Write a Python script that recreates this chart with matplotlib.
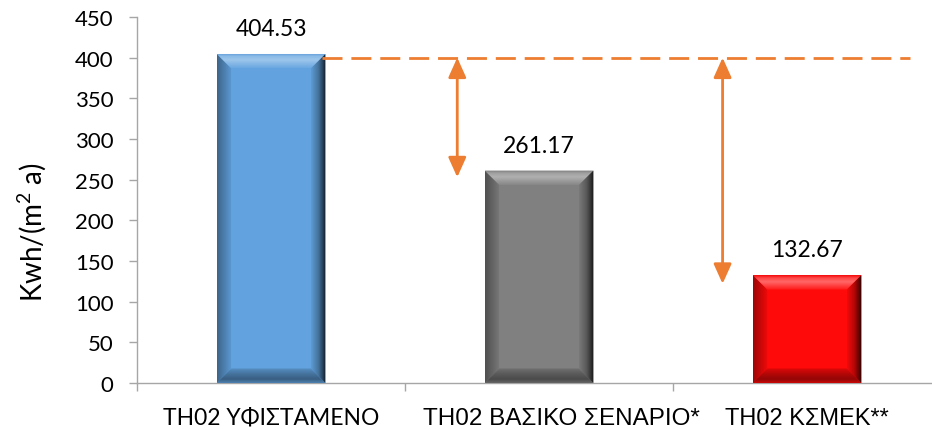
import numpy as np
import matplotlib
matplotlib.use("Agg")
import matplotlib.pyplot as plt
from matplotlib.patches import Polygon
from matplotlib.colors import to_rgb
import matplotlib.transforms as mtransforms

plt.rcParams["mathtext.fontset"] = "custom"
plt.rcParams["mathtext.rm"] = "Lato"
plt.rcParams["mathtext.it"] = "Lato:italic"
plt.rcParams["mathtext.bf"] = "Lato:bold"
plt.rcParams["mathtext.default"] = "regular"

# ---- data ----
categories = ["TH02 ΥΦΙΣΤΑΜΕΝΟ", "TH02 ΒΑΣΙΚΟ ΣΕΝΑΡΙΟ*", "TH02 ΚΣΜΕΚ**"]
values = [404.53, 261.17, 132.67]
value_labels = ["404.53", "261.17", "132.67"]
bar_colors = ["#62A3DF", "#808080", "#FF0A0A"]
ref_level = 400
ref_start, ref_end = 0.19, 2.384
arrow_x = [0.695, 1.685]
arrow_bottom = [253, 122]
yticks = [0, 50, 100, 150, 200, 250, 300, 350, 400, 450]
ylabel = r"Kwh/(m$^{2}$ a)"

orange = "#ED7D31"
axis_gray = "#A6A6A6"

W, H, DPI = 932, 431, 100
fig = plt.figure(figsize=(W / DPI, H / DPI), dpi=DPI)
ax = fig.add_axes([137 / W, 47 / H, (941 - 137) / W, (384 - 18) / H])

x = np.arange(len(categories))
bars = ax.bar(x, values, width=0.406, color=bar_colors, zorder=2, linewidth=0)

XL = (-0.5, 2.5)
YL = (0, 450)
ax.set_xlim(*XL)
ax.set_ylim(*YL)

# bevel sizes (pixels -> data)
ax_w_px = (941 - 137)
ax_h_px = (384 - 18)
bev_px = 14.5
bx = bev_px * (XL[1] - XL[0]) / ax_w_px
by = bev_px * (YL[1] - YL[0]) / ax_h_px


def shade(c, f):
    c = np.array(to_rgb(c))
    if f >= 0:
        return c + (1 - c) * f
    return c * (1 + f)


def grad_poly(verts, extent, stops, base, vertical):
    pos = np.array([s[0] for s in stops])
    cols = np.array([shade(base, s[1]) for s in stops])
    n = 64
    t = np.linspace(0, 1, n)
    arr = np.stack([np.interp(t, pos, cols[:, k]) for k in range(3)], axis=-1)
    if vertical:
        img = arr[:, None, :]
    else:
        img = arr[None, :, :]
    im = ax.imshow(img, extent=extent, origin="lower", aspect="auto",
                   interpolation="bilinear", zorder=3)
    poly = Polygon(verts, closed=True, facecolor="none", edgecolor="none",
                   transform=ax.transData)
    ax.add_patch(poly)
    im.set_clip_path(poly)


for rect, col in zip(bars, bar_colors):
    x0 = rect.get_x()
    x1 = x0 + rect.get_width()
    y0 = rect.get_y()
    y1 = y0 + rect.get_height()
    # top bevel (t=0 inner, t=1 outer top)
    grad_poly([(x0, y1), (x1, y1), (x1 - bx, y1 - by), (x0 + bx, y1 - by)],
              (x0, x1, y1 - by, y1),
              [(0, 0.05), (0.55, 0.38), (0.8, 0.25), (1, -0.05)], col, True)
    # bottom bevel (t=0 outer bottom, t=1 inner)
    grad_poly([(x0, y0), (x1, y0), (x1 - bx, y0 + by), (x0 + bx, y0 + by)],
              (x0, x1, y0, y0 + by),
              [(0, -0.2), (0.25, -0.42), (0.6, -0.3), (1, -0.12)], col, True)
    # left bevel (t=0 outer left, t=1 inner)
    grad_poly([(x0, y0), (x0, y1), (x0 + bx, y1 - by), (x0 + bx, y0 + by)],
              (x0, x0 + bx, y0, y1),
              [(0, -0.38), (0.5, -0.22), (1, -0.05)], col, False)
    # right bevel (t=0 inner, t=1 outer right)
    grad_poly([(x1, y0), (x1, y1), (x1 - bx, y1 - by), (x1 - bx, y0 + by)],
              (x1 - bx, x1, y0, y1),
              [(0, -0.05), (0.5, -0.3), (0.8, -0.6), (1, -0.85)], col, False)

ax.set_xlim(*XL)
ax.set_ylim(*YL)

# value labels
for rect, lab in zip(bars, value_labels):
    ax.annotate(lab, (rect.get_x() + rect.get_width() / 2, rect.get_height()),
                xytext=(0, 13.5), textcoords="offset points", ha="center",
                va="baseline", fontsize=16.5, family="Lato", color="#000000",
                zorder=5)

# reference dashed line
ax.plot([ref_start, ref_end], [ref_level, ref_level], color=orange, lw=2,
        dashes=(7.2, 3.2), zorder=4, solid_capstyle="butt")

# double arrows
for xa, yb in zip(arrow_x, arrow_bottom):
    ax.annotate("", xy=(xa, yb), xytext=(xa, ref_level),
                arrowprops=dict(arrowstyle="<|-|>,head_length=0.6,head_width=0.27",
                                color=orange, lw=2, shrinkA=0, shrinkB=0,
                                mutation_scale=20),
                zorder=4)

# axes styling
for s in ["top", "right"]:
    ax.spines[s].set_visible(False)
for s in ["left", "bottom"]:
    ax.spines[s].set_color(axis_gray)
    ax.spines[s].set_linewidth(1.0)

ax.set_yticks(yticks)
ax.set_yticklabels([str(v) for v in yticks], family="Lato", fontsize=16)
ax.tick_params(axis="y", direction="out", length=6, width=1, color=axis_gray,
               pad=11)

ax.set_xticks(x)
ax.set_xticklabels(categories, family="Liberation Sans", fontsize=17.5)
ax.set_xticks([-0.5, 0.5, 1.5, 2.5], minor=True)
ax.tick_params(axis="x", which="major", length=0, pad=17.5)
ax.tick_params(axis="x", which="minor", direction="out", length=6, width=1,
               color=axis_gray)

lbls = ax.get_xticklabels()
# first label in a Calibri-like face
lbls[0].set_family(["Lato", "Noto Sans", "DejaVu Sans"])
lbls[0].set_fontsize(16.5)
lbls[0].set_transform(lbls[0].get_transform() +
                      mtransforms.ScaledTranslation(0, 0.5 / 72, fig.dpi_scale_trans))
# second label offset to the right as in the reference
lbls[1].set_transform(lbls[1].get_transform() +
                      mtransforms.ScaledTranslation(22 / DPI, 0, fig.dpi_scale_trans))
# third label a touch smaller so it stays inside the canvas
lbls[2].set_fontsize(17)

fig.text(32 / W, 1 - 232 / H, ylabel, rotation=90, ha="center", va="center",
         family="Lato", fontsize=20)

fig.savefig("out.png", dpi=DPI)
